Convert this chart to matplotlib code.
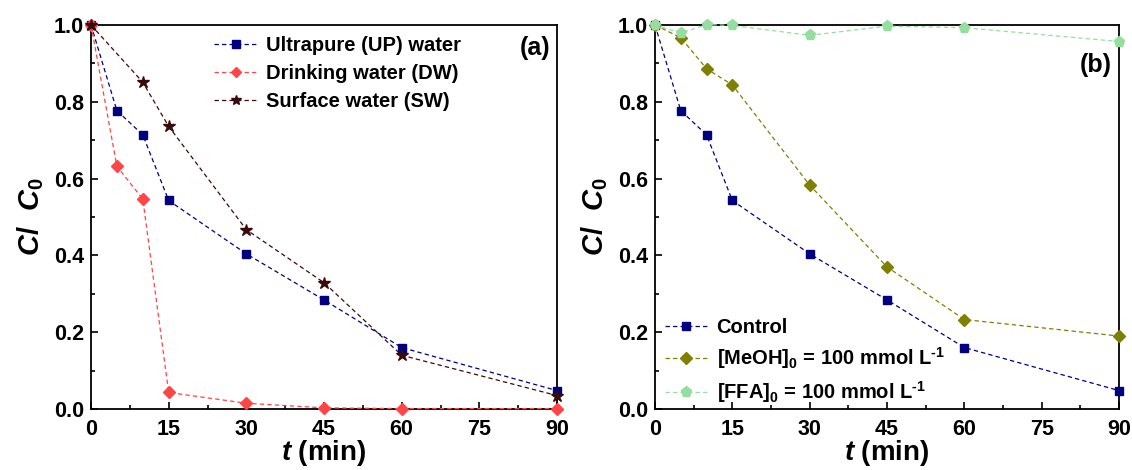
import numpy as np
import matplotlib
matplotlib.use('Agg')
import matplotlib.pyplot as plt
from matplotlib.ticker import MultipleLocator

plt.rcParams['font.family'] = ['Liberation Sans', 'DejaVu Sans']
plt.rcParams['font.weight'] = 'bold'
plt.rcParams['axes.labelweight'] = 'bold'
plt.rcParams['mathtext.fontset'] = 'custom'
plt.rcParams['mathtext.rm'] = 'Liberation Sans:bold'
plt.rcParams['mathtext.it'] = 'Liberation Sans:bold:italic'
plt.rcParams['mathtext.bf'] = 'Liberation Sans:bold'

# Data
t = [0, 5, 10, 15, 30, 45, 60, 90]
t_sw = [0, 10, 15, 30, 45, 60, 90]
up = [1.0, 0.777, 0.714, 0.543, 0.404, 0.284, 0.160, 0.048]
dw = [1.0, 0.632, 0.547, 0.043, 0.015, 0.003, 0.001, 0.001]
sw = [1.0, 0.851, 0.736, 0.467, 0.329, 0.140, 0.035]
meoh = [1.0, 0.967, 0.886, 0.844, 0.583, 0.370, 0.233, 0.190]
ffa = [1.0, 0.979, 1.001, 0.999, 0.973, 0.997, 0.993, 0.957]

xticks = [0, 15, 30, 45, 60, 75, 90]
yticks = [0.0, 0.2, 0.4, 0.6, 0.8, 1.0]


def style_axes(ax):
    ax.set_xlim(0, 90)
    ax.set_ylim(0, 1.0)
    ax.set_xticks(xticks)
    ax.set_yticks(yticks)
    ax.set_yticklabels([f'{v:.1f}' for v in yticks])
    ax.xaxis.set_minor_locator(MultipleLocator(7.5))
    ax.yaxis.set_minor_locator(MultipleLocator(0.1))
    ax.tick_params(which='both', direction='in', labelsize=15.5, width=1.2)
    ax.tick_params(axis='x', pad=7)
    ax.tick_params(axis='y', pad=5)
    ax.tick_params(which='major', length=5)
    ax.tick_params(which='minor', length=3)
    for s in ax.spines.values():
        s.set_linewidth(1.3)
    ax.set_xlabel(r'$t$ (min)', fontsize=20, labelpad=-1)
    ax.set_ylabel(r'$C/$  $C_0$', fontsize=21, labelpad=6)


fig = plt.figure(figsize=(11.32, 4.70), dpi=100)
ax1 = fig.add_axes([91 / 1132, 1 - 409 / 470, (557 - 91) / 1132, 384 / 470])
ax2 = fig.add_axes([655 / 1132, 1 - 409 / 470, (1119 - 655) / 1132, 384 / 470])

lw = 0.9
ls = (0, (3.5, 2.5))
ax1.plot(t, up, ls=ls, lw=lw, color='#000080', marker='s', ms=6, label='Ultrapure (UP) water', clip_on=False, zorder=3)
ax1.plot(t, dw, ls=ls, lw=lw, color='#FF4545', marker='D', ms=6.5, label='Drinking water (DW)', clip_on=False, zorder=3)
ax1.plot(t_sw, sw, ls=ls, lw=lw, color='#3A0A0A', marker='*', ms=9, label='Surface water (SW)', clip_on=False, zorder=4)
style_axes(ax1)
ax1.legend(loc='upper left', bbox_to_anchor=(0.265, 0.972), frameon=False, fontsize=14.5,
           borderpad=0, borderaxespad=0, markerscale=0.85,
           handlelength=2.1, handletextpad=0.45, labelspacing=0.45)
ax1.text(0.985, 0.94, '(a)', transform=ax1.transAxes, ha='right', va='center', fontsize=18)

ax2.plot(t, up, ls=ls, lw=lw, color='#000080', marker='s', ms=6, label='Control', clip_on=False, zorder=3)
ax2.plot(t, meoh, ls=ls, lw=lw, color='#808000', marker='D', ms=6.5, label=r'[MeOH]$_0$ = 100 mmol L$^{\text{-1}}$', clip_on=False, zorder=3)
ax2.plot(t, ffa, ls=ls, lw=lw, color='#96DEA0', marker='p', ms=8, label=r'[FFA]$_0$ = 100 mmol L$^{\text{-1}}$', clip_on=False, zorder=3)
style_axes(ax2)
ax2.legend(loc='lower left', bbox_to_anchor=(0.022, 0.01), frameon=False, fontsize=14.5,
           borderpad=0, borderaxespad=0,
           handlelength=2.1, handletextpad=0.45, labelspacing=0.4)
ax2.text(0.985, 0.895, '(b)', transform=ax2.transAxes, ha='right', va='center', fontsize=18)

fig.savefig('out.png', dpi=100)
